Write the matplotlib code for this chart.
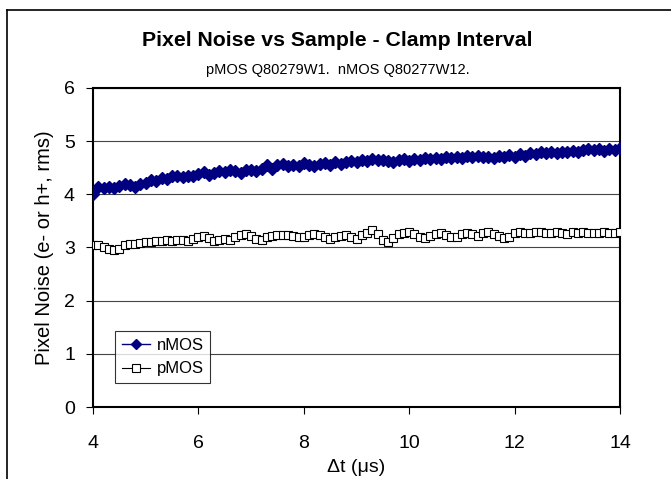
import numpy as np
import matplotlib.pyplot as plt
from matplotlib.lines import Line2D

plt.rcParams['font.family'] = ['Liberation Sans', 'DejaVu Sans']

# clamp interval, us
dt = np.round(np.arange(4.0, 14.01, 0.1), 1)

nmos = [4.00, 4.13, 4.12, 4.13, 4.11, 4.15, 4.20, 4.17, 4.14, 4.19,
        4.22, 4.27, 4.25, 4.30, 4.28, 4.34, 4.35, 4.33, 4.35, 4.34,
        4.38, 4.42, 4.37, 4.41, 4.44, 4.42, 4.46, 4.44, 4.40, 4.45,
        4.46, 4.44, 4.47, 4.56, 4.48, 4.55, 4.57, 4.53, 4.56, 4.54,
        4.58, 4.55, 4.53, 4.57, 4.59, 4.56, 4.60, 4.57, 4.61, 4.63,
        4.60, 4.64, 4.62, 4.66, 4.64, 4.65, 4.63, 4.60, 4.64, 4.66,
        4.62, 4.67, 4.65, 4.69, 4.66, 4.68, 4.67, 4.70, 4.68, 4.71,
        4.69, 4.72, 4.70, 4.73, 4.70, 4.71, 4.68, 4.72, 4.70, 4.74,
        4.71, 4.76, 4.73, 4.77, 4.75, 4.79, 4.77, 4.80, 4.78, 4.80,
        4.79, 4.81, 4.79, 4.83, 4.86, 4.84, 4.86, 4.82, 4.86, 4.83,
        4.87]

pmos = [3.05, 3.04, 3.00, 2.97, 2.95, 2.98, 3.04, 3.07, 3.06, 3.09,
        3.10, 3.11, 3.12, 3.13, 3.14, 3.13, 3.15, 3.14, 3.13, 3.16,
        3.20, 3.21, 3.17, 3.13, 3.14, 3.16, 3.15, 3.19, 3.23, 3.25,
        3.22, 3.16, 3.15, 3.19, 3.22, 3.23, 3.24, 3.23, 3.22, 3.20,
        3.19, 3.24, 3.26, 3.23, 3.20, 3.16, 3.19, 3.22, 3.23, 3.20,
        3.16, 3.23, 3.28, 3.33, 3.26, 3.14, 3.11, 3.18, 3.25, 3.28,
        3.30, 3.26, 3.20, 3.17, 3.21, 3.26, 3.27, 3.24, 3.19, 3.20,
        3.26, 3.27, 3.25, 3.22, 3.28, 3.30, 3.26, 3.22, 3.18, 3.20,
        3.27, 3.29, 3.28, 3.27, 3.29, 3.30, 3.27, 3.28, 3.30, 3.27,
        3.26, 3.29, 3.27, 3.30, 3.28, 3.27, 3.28, 3.29, 3.27, 3.28,
        3.29]

fig = plt.figure(figsize=(6.71, 4.79), dpi=100)
ax = fig.add_axes([0.1386, 0.1503, 0.7854, 0.666])

ax.plot(dt, nmos, color='#000080', marker='D', markersize=6, lw=1, label='nMOS', zorder=3)
ax.plot(dt, pmos, color='black', marker='s', markersize=6, mfc='white', mec='black',
        mew=0.8, lw=0.8, label='pMOS', zorder=3)

ax.set_xlim(4, 14)
ax.set_ylim(0, 6)
ax.set_xticks(range(4, 15, 2))
ax.set_yticks(range(0, 7))
ax.tick_params(direction='out', labelsize=14, length=5, width=0.8)
ax.tick_params(axis='x', pad=15)
ax.tick_params(axis='y', pad=8)
ax.yaxis.grid(True, color='#444444', lw=0.8)
ax.set_axisbelow(True)
for s in ax.spines.values():
    s.set_linewidth(1.5)

ax.set_xlabel('Δt (μs)', fontsize=14, labelpad=5)
ax.set_ylabel('Pixel Noise (e- or h+, rms)', fontsize=14.5, labelpad=7)

fig.text(0.503, 0.916, 'Pixel Noise vs Sample - Clamp Interval', ha='center', va='center',
         fontsize=15.3, fontweight='bold')
fig.text(0.503, 0.853, 'pMOS Q80279W1.  nMOS Q80277W12.', ha='center', va='center', fontsize=10.5)

leg = ax.legend(loc='lower left', bbox_to_anchor=(0.042, 0.075), borderaxespad=0, fontsize=12,
                frameon=True, fancybox=False, edgecolor='black', handlelength=1.7,
                handletextpad=0.4, borderpad=0.4, labelspacing=0.5, markerscale=0.9)
leg.get_frame().set_linewidth(0.8)

# outer chart border
fig.add_artist(Line2D([7 / 671, 7 / 671], [0, 1 - 10 / 479], color='black', lw=1.2,
                      transform=fig.transFigure))
fig.add_artist(Line2D([7 / 671, 1], [1 - 10 / 479, 1 - 10 / 479], color='black', lw=1.2,
                      transform=fig.transFigure))

fig.savefig('out.png', dpi=100)
